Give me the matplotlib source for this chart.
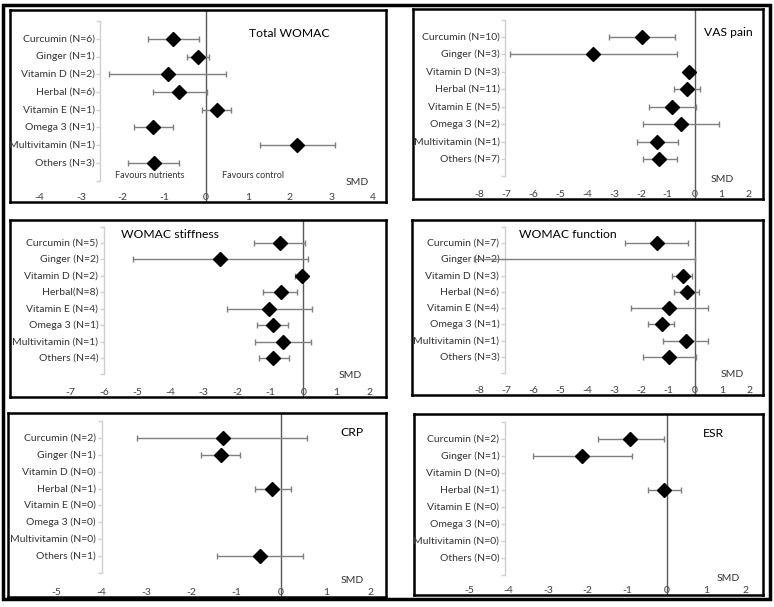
import numpy as np
import matplotlib
matplotlib.use("Agg")
import matplotlib.pyplot as plt
from matplotlib.patches import Rectangle

plt.rcParams["font.family"] = ["Lato", "DejaVu Sans"]

W, H = 774, 607

# ---- data (SMD and 95% CI per nutrient group) ----
groups = ["Curcumin", "Ginger", "Vitamin D", "Herbal", "Vitamin E", "Omega 3", "Multivitamin", "Others"]

womac_n = [6, 1, 2, 6, 1, 1, 1, 3]
womac_smd = [-0.78, -0.20, -0.92, -0.64, 0.26, -1.26, 2.18, -1.25]
womac_lo = [-1.38, -0.45, -2.33, -1.26, -0.09, -1.73, 1.29, -1.86]
womac_hi = [-0.17, 0.06, 0.48, 0.03, 0.59, -0.78, 3.10, -0.64]

vas_n = [10, 3, 3, 11, 5, 2, 1, 7]
vas_smd = [-1.94, -3.76, -0.21, -0.30, -0.85, -0.52, -1.39, -1.31]
vas_lo = [-3.18, -6.85, -0.30, -0.78, -1.71, -1.91, -2.15, -1.93]
vas_hi = [-0.75, -0.64, -0.13, 0.20, 0.04, 0.90, -0.61, -0.64]

stiff_n = [5, 2, 2, 8, 4, 1, 1, 4]
stiff_smd = [-0.70, -2.51, -0.05, -0.68, -1.02, -0.92, -0.62, -0.90]
stiff_lo = [-1.48, -5.12, -0.25, -1.20, -2.31, -1.38, -1.45, -1.34]
stiff_hi = [0.06, 0.15, 0.10, -0.18, 0.27, -0.45, 0.23, -0.42]

func_n = [7, 2, 3, 6, 4, 1, 1, 3]
func_smd = [-1.42, np.nan, -0.46, -0.31, -0.95, -1.23, -0.35, -0.96]
func_lo = [-2.59, -8.20, -0.84, -0.79, -2.37, -1.73, -1.20, -1.91]
func_hi = [-0.27, 0.00, -0.12, 0.16, 0.47, -0.77, 0.47, 0.02]

crp_n = [2, 1, 0, 1, 0, 0, 0, 1]
crp_smd = [-1.30, -1.34, np.nan, -0.19, np.nan, np.nan, np.nan, -0.47]
crp_lo = [-3.20, -1.78, np.nan, -0.59, np.nan, np.nan, np.nan, -1.43]
crp_hi = [0.57, -0.91, np.nan, 0.22, np.nan, np.nan, np.nan, 0.48]

esr_n = [2, 1, 0, 1, 0, 0, 0, 0]
esr_smd = [-0.93, -2.15, np.nan, -0.06, np.nan, np.nan, np.nan, np.nan]
esr_lo = [-1.74, -3.39, np.nan, -0.46, np.nan, np.nan, np.nan, np.nan]
esr_hi = [-0.08, -0.88, np.nan, 0.36, np.nan, np.nan, np.nan, np.nan]

# ---- layout: box in px (l, t, r, b), x of 0 in px, px per unit, first row px, row step px
panels = [
    dict(title="Total WOMAC", n=womac_n, smd=womac_smd, lo=womac_lo, hi=womac_hi,
         box=(10, 10, 386, 202), x0=206, unit=41.7, y1=39, step=17.7,
         ticks=range(-4, 5), cat_x=-2.54, title_xy=(2.0, 0.7), smd_xy=(3.62, 9.13)),
    dict(title="VAS pain", n=vas_n, smd=vas_smd, lo=vas_lo, hi=vas_hi,
         box=(413, 9, 763, 199), x0=694.7, unit=26.93, y1=37, step=17.43,
         ticks=range(-8, 3), cat_x=-7.04, title_xy=(1.24, 0.77), smd_xy=(1.02, 9.15)),
    dict(title="WOMAC stiffness", n=stiff_n, smd=stiff_smd, lo=stiff_lo, hi=stiff_hi,
         box=(10, 220, 386, 397), x0=303.3, unit=33.23, y1=243, step=16.43,
         ticks=range(-7, 3), cat_x=-6.0, title_xy=(-4.0, 0.5), smd_xy=(1.41, 9.05),
         nospace=True),
    dict(title="WOMAC function", n=func_n, smd=func_smd, lo=func_lo, hi=func_hi,
         box=(412, 220, 763, 395), x0=695, unit=27.0, y1=243, step=16.29,
         ticks=range(-8, 3), cat_x=-7.04, title_xy=(-4.7, 0.5), smd_xy=(1.37, 9.1)),
    dict(title="CRP", n=crp_n, smd=crp_smd, lo=crp_lo, hi=crp_hi,
         box=(8, 413, 386, 597), x0=281, unit=44.87, y1=438, step=16.86,
         ticks=range(-5, 3), cat_x=-4.0, title_xy=(1.58, 0.7), smd_xy=(1.58, 9.45)),
    dict(title="ESR", n=esr_n, smd=esr_smd, lo=esr_lo, hi=esr_hi,
         box=(414, 414, 763, 595), x0=666.7, unit=39.57, y1=439, step=17.0,
         ticks=range(-5, 3), cat_x=-4.09, title_xy=(1.17, 0.65), smd_xy=(1.55, 9.18)),
]

fig = plt.figure(figsize=(W / 100, H / 100), dpi=100)

# outer frame
fig.add_artist(Rectangle((3 / W, 1 - 599 / H), 767 / W, 594 / H, transform=fig.transFigure,
                         fill=False, edgecolor="black", linewidth=2.5))

rows = np.arange(1, 9)
for p in panels:
    l, t, r, b = p["box"]
    ax = fig.add_axes([l / W, 1 - b / H, (r - l) / W, (b - t) / H])
    ax.set_xlim((l - p["x0"]) / p["unit"], (r - p["x0"]) / p["unit"])
    ax.set_ylim(8 + (b - (p["y1"] + 7 * p["step"])) / p["step"], 1 - (p["y1"] - t) / p["step"])
    for s in ax.spines.values():
        s.set_linewidth(1.8)
        s.set_color("black")

    ax.set_yticks([])
    ax.set_xticks(list(p["ticks"]))
    ax.set_xticklabels([str(v) for v in p["ticks"]])
    ax.tick_params(axis="x", length=0, pad=-6.5, labelsize=7.5, labelcolor="#404040")

    # zero line
    ax.axvline(0, color="#595959", linewidth=1.0, zorder=2)

    # category axis
    cx = p["cat_x"]
    ax.plot([cx, cx], [0, 9], color="#d0d0d0", linewidth=1.0, zorder=1)
    ax.plot([cx] * 10, np.arange(0, 10), linestyle="none", marker=0, markersize=3,
            color="#d0d0d0", markeredgewidth=1.0, zorder=1)
    for i, (g, n) in enumerate(zip(groups, p["n"])):
        if p.get("nospace") and g == "Herbal":
            lab = f"{g}(N={n})"
        else:
            lab = f"{g} (N={n})"
        ax.annotate(lab, (cx, rows[i]), xytext=(-4, 0), textcoords="offset points",
                    ha="right", va="center", fontsize=7.5, color="#333333")

    smd = np.array(p["smd"], dtype=float)
    lo = np.array(p["lo"], dtype=float)
    hi = np.array(p["hi"], dtype=float)
    ok = ~np.isnan(lo)
    ax.hlines(rows[ok], lo[ok], hi[ok], color="#7f7f7f", linewidth=1.0, zorder=3)
    ax.plot(lo[ok], rows[ok], linestyle="none", marker="|", markersize=5,
            color="#7f7f7f", markeredgewidth=1.0, zorder=3)
    ax.plot(hi[ok], rows[ok], linestyle="none", marker="|", markersize=5,
            color="#7f7f7f", markeredgewidth=1.0, zorder=3)
    ax.plot(smd, rows, linestyle="none", marker="D", markersize=7,
            color="black", zorder=4)

    ax.text(p["title_xy"][0], p["title_xy"][1], p["title"], ha="center", va="center",
            fontsize=8.7, color="black")
    ax.text(p["smd_xy"][0], p["smd_xy"][1], "SMD", ha="center", va="center",
            fontsize=7.5, color="#333333")

    if p["title"] == "Total WOMAC":
        ax.text(-1.34, 8.73, "Favours nutrients", ha="center", va="center", fontsize=6.5,
                color="#333333")
        ax.text(1.13, 8.73, "Favours control", ha="center", va="center", fontsize=6.5,
                color="#333333")

fig.savefig("out.png", dpi=100)
